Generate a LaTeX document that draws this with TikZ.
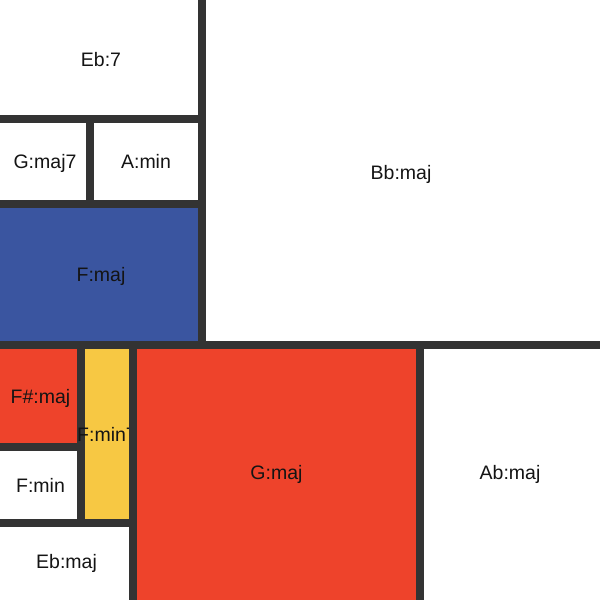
\documentclass[tikz,border=0pt]{standalone}
\usepackage{fontspec}
\setmainfont{Liberation Sans}
\definecolor{mblue}{HTML}{3A55A0}
\definecolor{mred}{HTML}{EE432B}
\definecolor{myellow}{HTML}{F7C843}
\definecolor{mline}{HTML}{333333}
\begin{document}
\begin{tikzpicture}[x=1pt,y=-1pt,
  cell/.style={draw=mline,line width=8pt},
  lbl/.style={font=\fontsize{19.5}{20}\selectfont,text=black!92,text height=14pt,text depth=0pt,inner sep=0pt}]
\useasboundingbox (0,0) rectangle (600,600);
\clip (0,0) rectangle (600,600);
% cells (outer edges pushed beyond canvas)
\path[cell,fill=white]   (-10,-10) rectangle (202,119);
\path[cell,fill=white]   (-10,119) rectangle (90,204);
\path[cell,fill=white]   (90,119) rectangle (202,204);
\path[cell,fill=mblue]   (-10,204) rectangle (202,345);
\path[cell,fill=white]   (202,-10) rectangle (610,345);
\path[cell,fill=mred]    (-10,345) rectangle (81,447);
\path[cell,fill=white]   (-10,447) rectangle (81,523);
\path[cell,fill=myellow] (81,345) rectangle (133,523);
\path[cell,fill=white]   (-10,523) rectangle (133,610);
\node[lbl] (fmin7) at (107,434) {F:min7};
\path[cell,fill=mred]    (133,345) rectangle (420,610);
\path[cell,fill=white]   (420,345) rectangle (610,610);
% labels
\node[lbl] (eb7)  at (101,59.5) {Eb:7};
\node[lbl] (gmaj7) at (45,161.5) {G:maj7};
\node[lbl] (amin) at (146,161.5) {A:min};
\node[lbl] (fmaj) at (101,274.5) {F:maj};
\node[lbl] (bbmaj) at (401,172.5) {Bb:maj};
\node[lbl] (fsmaj) at (40.5,396) {F\#:maj};
\node[lbl] (fmin) at (40.5,485) {F:min};
\node[lbl] (ebmaj) at (66.5,561.5) {Eb:maj};
\node[lbl] (gmaj) at (276.5,472.5) {G:maj};
\node[lbl] (abmaj) at (510,472.5) {Ab:maj};
\end{tikzpicture}
\end{document}
